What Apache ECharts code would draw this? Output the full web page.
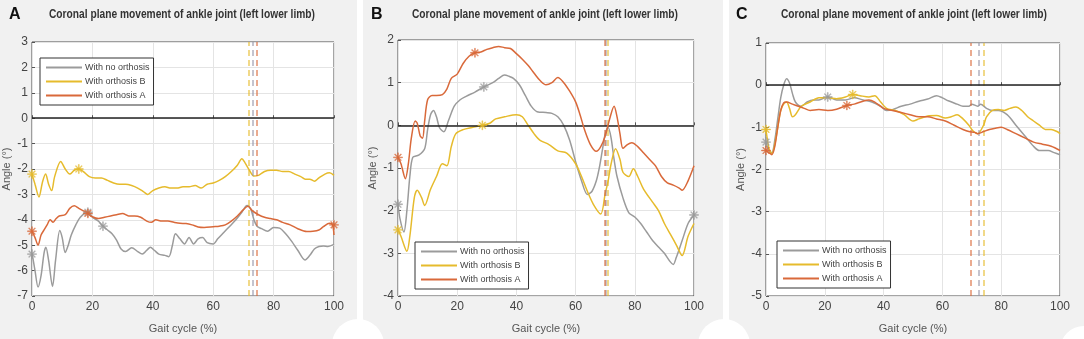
<!DOCTYPE html>
<html>
<head>
<meta charset="utf-8">
<script src="https://cdn.jsdelivr.net/npm/echarts@6/dist/echarts.min.js"></script>
<style>
  html, body { margin: 0; padding: 0; background: #fff; }
  #chart { width: 1084px; height: 339px; }
</style>
</head>
<body>
<div id="chart"></div>
<script>
// series names (legend) and event x positions
var seriesNames = ['With no orthosis', 'With orthosis B', 'With orthosis A'];
var titleText = 'Coronal plane movement of ankle joint (left lower limb)';
var xTicks = [0, 20, 40, 60, 80, 100];
var yRangeA = [-7, 3];
var yRangeB = [-4, 2];
var yRangeC = [-5, 1];

// ---- panel A ----
var noOrthA = [[0,-5.3],[1,-6.0],[2,-6.65],[3,-6.2],[4,-5.3],[4.6,-5.08],[5.5,-5.6],[6.8,-6.63],[7.8,-5.6],[9.2,-4.42],[10,-4.7],[11,-5.29],[12,-5.0],[13,-4.6],[14.5,-4.2],[16,-3.9],[18.4,-3.67],[20,-3.9],[22,-4.05],[23.5,-4.25],[25,-4.4],[26.5,-4.55],[28,-4.8],[29.5,-5.15],[31,-5.25],[33,-5.1],[35,-5.25],[36.5,-5.35],[38,-5.2],[39.2,-5.08],[40.5,-5.2],[42,-5.35],[44,-5.4],[45.3,-5.45],[46.5,-5.0],[47.5,-4.55],[49,-4.75],[50.5,-4.95],[52,-4.7],[53.5,-4.95],[55,-4.75],[56.5,-4.7],[58,-4.9],[60,-4.95],[61.5,-4.75],[63.5,-4.5],[65.5,-4.25],[67.5,-4.0],[69.5,-3.7],[71.2,-3.44],[72.5,-3.6],[73.5,-4.0],[74.5,-4.25],[76,-4.35],[78,-4.45],[80,-4.3],[82,-4.33],[84,-4.55],[86,-4.85],[88,-5.2],[90.4,-5.58],[92,-5.4],[93.5,-5.15],[95,-5.05],[96.5,-5.03],[98,-5.05],[100,-4.97]];
var orthBA = [[0,-2.2],[1,-2.6],[2.3,-3.1],[3.5,-2.5],[4.5,-2.2],[5.5,-2.6],[6.5,-2.85],[7.5,-2.3],[9.5,-1.7],[11,-2.0],[12.5,-2.2],[14,-2.05],[15.5,-2.0],[17,-2.1],[19,-2.3],[21,-2.35],[23,-2.35],[25,-2.45],[27,-2.55],[29,-2.6],[31,-2.6],[33,-2.65],[35,-2.75],[37,-2.9],[38.3,-3.0],[40,-2.85],[42,-2.75],[44,-2.7],[46,-2.75],[48,-2.75],[50,-2.7],[52,-2.7],[54,-2.65],[56,-2.75],[58,-2.6],[60,-2.55],[62,-2.45],[64,-2.3],[66,-2.1],[68,-1.85],[69.5,-1.6],[70.5,-1.75],[72,-2.05],[73.5,-2.28],[75,-2.25],[77,-2.1],[79,-2.05],[81,-2.05],[83,-2.1],[85,-2.1],[87,-2.2],[89,-2.3],[90.5,-2.4],[92,-2.4],[93.5,-2.48],[95,-2.35],[97,-2.2],[98.5,-2.15],[100,-2.25]];
var orthAA = [[0,-4.45],[1,-4.7],[2,-5.0],[3,-4.6],[4,-4.4],[5,-4.2],[6,-4.0],[7,-4.1],[8,-3.95],[9,-3.85],[11,-3.8],[12.5,-3.55],[14,-3.45],[15.5,-3.55],[17,-3.65],[18.5,-3.75],[20,-3.88],[22,-3.95],[24,-3.9],[26,-3.85],[28,-3.8],[30,-3.75],[32,-3.85],[34,-3.85],[36,-3.9],[38,-4.05],[39.5,-4.1],[41,-4.0],[43,-4.05],[45,-4.05],[47,-4.1],[49,-4.14],[51,-4.15],[53,-4.2],[55,-4.28],[57,-4.3],[60,-4.27],[62,-4.25],[64,-4.2],[66,-4.05],[68,-3.85],[70,-3.6],[71.5,-3.47],[73,-3.65],[75,-3.8],[77,-3.9],[79,-3.95],[81,-4.0],[83,-4.1],[85.5,-4.2],[88,-4.35],[91,-4.46],[93,-4.45],[95,-4.4],[96.5,-4.27],[98.5,-4.14],[99.5,-4.2],[100,-4.6]];
var starsNoA = [[0,-5.35],[18.5,-3.7],[23.5,-4.25]];
var starsBA = [[0,-2.2],[15.5,-2.0]];
var starsAA = [[0,-4.45],[18.5,-3.75],[100,-4.2]];
var toeOffA = [73.0, 71.7, 74.5]; // no orthosis, B, A

// ---- panel B ----
var noOrthB = [[0,-1.85],[0.7,-2.2],[2,-2.5],[3,-2.0],[4,-1.2],[5,-0.75],[7,-0.7],[9,-0.55],[10,-0.1],[11,0.25],[12,0.35],[13,0.2],[14,-0.05],[15.5,-0.15],[17,0.1],[19,0.45],[21,0.6],[23,0.68],[26,0.78],[29,0.9],[32,1.0],[34,1.1],[36,1.18],[37.5,1.15],[39,1.1],[41,0.95],[43,0.7],[45,0.45],[47,0.32],[50,0.3],[52,0.28],[54,0.2],[56,0.0],[58,-0.35],[60,-0.85],[62,-1.3],[64,-1.62],[65.5,-1.55],[67,-1.3],[68,-1.0],[69,-0.6],[70,-0.2],[71,-0.05],[72,-0.3],[73,-0.8],[74,-1.2],[76,-1.7],[78,-2.05],[80,-2.15],[82,-2.3],[84,-2.5],[86,-2.7],[88,-2.85],[90,-3.0],[92,-3.2],[93,-3.26],[94,-3.1],[96,-2.7],[98,-2.3],[100,-2.1]];
var orthBB = [[0,-2.45],[1,-2.6],[3,-2.95],[4,-2.6],[5.5,-1.7],[6.5,-1.52],[8,-1.7],[9,-1.88],[11,-1.5],[13,-1.2],[15,-0.9],[16.5,-0.95],[18,-0.5],[19.5,-0.2],[22,-0.1],[25,-0.05],[28.5,0.0],[31,0.05],[33,0.15],[36,0.2],[40,0.25],[42,0.2],[44,0.0],[46,-0.2],[48,-0.35],[51,-0.45],[54,-0.6],[57,-0.65],[60,-0.9],[62,-1.2],[64,-1.55],[66,-1.85],[68.5,-2.08],[70,-1.6],[71,-1.3],[72,-0.9],[73.5,-0.55],[75,-0.8],[76,-1.1],[78,-1.2],[79.5,-1.02],[81,-1.2],[83,-1.5],[86,-1.8],[88,-2.0],[90,-2.3],[92,-2.55],[94,-2.8],[96,-3.05],[98,-2.6],[100,-2.3]];
var orthAB = [[0,-0.75],[1,-0.9],[2.5,-1.25],[3.5,-0.9],[4.5,-0.3],[5.8,0.1],[6.5,0.05],[7.5,-0.25],[8.3,-0.3],[9,0.1],[10,0.6],[11.5,0.7],[13,0.7],[15,0.72],[16.5,0.85],[18,1.1],[20,1.2],[22,1.45],[24,1.62],[26,1.7],[28,1.72],[30,1.78],[32,1.82],[34,1.85],[36,1.82],[38,1.8],[40,1.68],[42,1.55],[44,1.4],[46,1.22],[48,1.05],[50,0.95],[52,1.0],[54,1.12],[56,1.0],[58,0.8],[60,0.55],[61.5,0.25],[63,-0.1],[65,-0.45],[67,-0.61],[68.5,-0.5],[70,-0.25],[71.5,0.15],[73,0.45],[74,0.2],[75,-0.2],[76,-0.54],[77.5,-0.45],[79,-0.41],[81,-0.5],[83,-0.65],[85,-0.8],[87,-0.95],[89,-1.2],[91,-1.35],[93,-1.4],[95,-1.47],[96,-1.52],[98,-1.3],[100,-0.95]];
var starsNoB = [[0,-1.85],[29,0.9],[100,-2.1]];
var starsBB = [[0,-2.45],[28.5,0.0]];
var starsAB = [[0,-0.75],[26,1.7]];
var toeOffB = [70.2, 71.0, 69.7];

// ---- panel C ----
var noOrthC = [[0,-1.35],[1,-1.55],[2,-1.6],[3,-1.3],[4,-0.8],[5,-0.3],[6,0.0],[7,0.15],[8,0.05],[9,-0.2],[10,-0.4],[12,-0.5],[14,-0.4],[16,-0.35],[18,-0.35],[21,-0.28],[24,-0.35],[27,-0.35],[30,-0.3],[33,-0.35],[36,-0.4],[39,-0.5],[41,-0.6],[43,-0.58],[46,-0.5],[49,-0.45],[52,-0.38],[55,-0.33],[58,-0.25],[60,-0.3],[62,-0.37],[65,-0.45],[67,-0.5],[69,-0.5],[70,-0.45],[72,-0.5],[73,-0.45],[75,-0.55],[77,-0.6],[79,-0.6],[82,-0.7],[85,-0.95],[88,-1.2],[91,-1.45],[93,-1.55],[96,-1.55],[98,-1.6],[100,-1.65]];
var orthBC = [[0,-1.05],[1,-1.5],[2,-1.62],[3,-1.4],[4,-1.0],[5,-0.6],[6,-0.45],[7,-0.4],[8,-0.55],[9,-0.75],[10,-0.7],[12,-0.5],[15,-0.4],[18,-0.3],[21,-0.3],[24,-0.32],[27,-0.28],[29.5,-0.22],[32,-0.25],[35,-0.28],[37,-0.25],[39,-0.4],[41,-0.55],[44,-0.6],[47,-0.7],[50,-0.85],[52,-0.8],[55,-0.73],[58,-0.72],[61,-0.78],[63,-0.75],[65,-0.7],[67,-0.8],[69,-0.95],[70,-1.05],[71,-1.12],[72,-1.15],[74,-0.95],[75,-0.75],[77,-0.6],[79,-0.58],[81,-0.6],[83,-0.55],[85,-0.52],[87,-0.6],[89,-0.75],[91,-0.85],[93,-0.95],[95,-1.05],[97,-1.05],[99,-1.1],[100,-1.15]];
var orthAC = [[0,-1.55],[1,-1.6],[2,-1.65],[3,-1.45],[4,-1.0],[5,-0.6],[6,-0.42],[7,-0.4],[9,-0.45],[11,-0.5],[13,-0.55],[15,-0.6],[18,-0.58],[21,-0.6],[24,-0.57],[27.5,-0.48],[30,-0.45],[33,-0.38],[35,-0.35],[37,-0.4],[40,-0.55],[43,-0.6],[46,-0.65],[49,-0.7],[52,-0.75],[55,-0.75],[58,-0.8],[61,-0.85],[64,-0.95],[67,-1.05],[69,-1.1],[71,-1.12],[72,-1.15],[74,-1.1],[76,-1.05],[78,-1.02],[80,-1.0],[82,-1.05],[85,-1.15],[88,-1.25],[91,-1.35],[94,-1.4],[97,-1.45],[100,-1.55]];
var starsNoC = [[0,-1.35],[21,-0.28]];
var starsBC = [[0,-1.05],[29.5,-0.22]];
var starsAC = [[0,-1.55],[27.5,-0.48]];
var toeOffC = [72.4, 74.1, 69.6];

var colors = ['#9b9b9b', '#e6bb2c', '#d9693a'];
var dashColors = ['rgba(150,150,170,0.75)', 'rgba(230,187,44,0.75)', 'rgba(217,105,58,0.75)'];
var starPath = 'path://M-1,-10L1,-10L1,10L-1,10Z M-10,-1L10,-1L10,1L-10,1Z M-7.8,-6.4L-6.4,-7.8L7.8,6.4L6.4,7.8Z M6.4,-7.8L7.8,-6.4L-6.4,7.8L-7.8,6.4Z';
var tickFont = 'Liberation Sans, Arial, sans-serif';

// the titles use a narrow bold face: squeeze a normal bold face to the same width
var titleFont = 'bold 12px Liberation Sans';
var titleWidth = 266;
var ctx = document.createElement('canvas').getContext('2d');
ctx.font = titleFont;
var titleScale = titleWidth / ctx.measureText(titleText).width;

var panels = [
  { letter: 'A', lines: [noOrthA, orthBA, orthAA], stars: [starsNoA, starsBA, starsAA], toeOff: toeOffA, yr: yRangeA,
    grid: { left: 31, top: 42, width: 303, height: 261 }, titleX: 182, letterX: 4,
    legend: { left: 40, top: 58 }, bg: [0, 0, 357, 339] },
  { letter: 'B', lines: [noOrthB, orthBB, orthAB], stars: [starsNoB, starsBB, starsAB], toeOff: toeOffB, yr: yRangeB,
    grid: { left: 398, top: 40, width: 296, height: 261 }, titleX: 545, letterX: 366,
    legend: { left: 415, top: 242 }, bg: [363, 0, 360, 339] },
  { letter: 'C', lines: [noOrthC, orthBC, orthAC], stars: [starsNoC, starsBC, starsAC], toeOff: toeOffC, yr: yRangeC,
    grid: { left: 766, top: 43, width: 294, height: 255 }, titleX: 914, letterX: 731,
    legend: { left: 777, top: 241 }, bg: [729, 0, 355, 339] }
];

var grids = [], xAxes = [], yAxes = [], series = [], legends = [], titles = [], graphics = [];

panels.forEach(function (p, i) {
  graphics.push({ type: 'rect', z: -10, silent: true,
    shape: { x: p.bg[0], y: p.bg[1], width: p.bg[2], height: p.bg[3] },
    style: { fill: '#f1f1f1' } });

  graphics.push({ type: 'text', x: p.titleX, y: 15, scaleX: titleScale, silent: true,
    style: { text: titleText, font: titleFont, fill: '#333', align: 'center', verticalAlign: 'middle' } });

  grids.push({ left: p.grid.left, top: p.grid.top, width: p.grid.width, height: p.grid.height,
    show: true, backgroundColor: '#ffffff', borderColor: '#4a4a4a', borderWidth: 1 });

  xAxes.push({ type: 'value', gridIndex: i, min: 0, max: 100, interval: 20,
    name: 'Gait cycle (%)', nameLocation: 'middle', nameGap: 27,
    nameTextStyle: { color: '#555', fontSize: 11, fontFamily: tickFont },
    axisLine: { show: false }, axisTick: { inside: true, length: 3, lineStyle: { color: '#555' } },
    axisLabel: { color: '#444', fontSize: 12, margin: 5, fontFamily: tickFont },
    splitLine: { show: true, lineStyle: { color: '#e4e4e4' } } });

  yAxes.push({ type: 'value', gridIndex: i, min: p.yr[0], max: p.yr[1], interval: 1,
    name: 'Angle (°)', nameLocation: 'middle', nameGap: 20, nameRotate: 90,
    nameTextStyle: { color: '#555', fontSize: 11, fontFamily: tickFont },
    axisLine: { show: false }, axisTick: { inside: true, length: 3, lineStyle: { color: '#555' } },
    axisLabel: { color: '#444', fontSize: 12, margin: 4, fontFamily: tickFont },
    splitLine: { show: true, lineStyle: { color: '#e4e4e4' } } });

  titles.push({ text: p.letter, left: p.letterX, top: 2,
    textStyle: { fontSize: 16, fontWeight: 'bold', color: '#111', fontFamily: tickFont } });

  legends.push({ data: seriesNames, orient: 'vertical', left: p.legend.left, top: p.legend.top,
    backgroundColor: '#fff', borderColor: '#333', borderWidth: 1, borderRadius: 0,
    padding: [5, 4, 5, 6], itemGap: 5, itemWidth: 36, itemHeight: 2, icon: 'rect',
    textStyle: { fontSize: 9, color: '#444', fontFamily: tickFont, padding: [0, 0, 0, -2] } });

  p.lines.forEach(function (data, k) {
    var s = { name: seriesNames[k], type: 'line', xAxisIndex: i, yAxisIndex: i,
      data: data, smooth: 0.3, showSymbol: false, symbol: 'none',
      lineStyle: { color: colors[k], width: 1.5 }, itemStyle: { color: colors[k] }, z: 3 + k,
      markLine: { symbol: 'none', silent: true, animation: false, label: { show: false },
        lineStyle: { color: dashColors[k], type: [6, 4], width: 1.5 },
        data: [{ xAxis: p.toeOff[k] }] } };
    series.push(s);
    series.push({ name: 'ev' + i + k, type: 'scatter', xAxisIndex: i, yAxisIndex: i,
      data: p.stars[k], symbol: starPath, symbolSize: 9,
      itemStyle: { color: colors[k], borderColor: colors[k], borderWidth: 0.5 }, z: 6 });
  });
  // zero reference line
  series.push({ name: 'zero' + i, type: 'line', xAxisIndex: i, yAxisIndex: i, data: [],
    markLine: { symbol: 'none', silent: true, animation: false, label: { show: false },
      lineStyle: { color: '#222', type: 'solid', width: 1.5 }, data: [{ yAxis: 0 }] }, z: 2 });
});

// white gaps at the bottom corners of the panels
[[358, 345, 26], [724, 345, 26], [1084, 350, 24], [0, 350, 10]].forEach(function (c) {
  graphics.push({ type: 'circle', z: -5, silent: true, shape: { cx: c[0], cy: c[1], r: c[2] },
    style: { fill: '#ffffff' } });
});

var chart = echarts.init(document.getElementById('chart'), null, { renderer: 'canvas' });
chart.setOption({
  animation: false,
  backgroundColor: '#ffffff',
  title: titles,
  legend: legends,
  grid: grids,
  xAxis: xAxes,
  yAxis: yAxes,
  graphic: graphics,
  series: series
});
</script>
</body>
</html>
